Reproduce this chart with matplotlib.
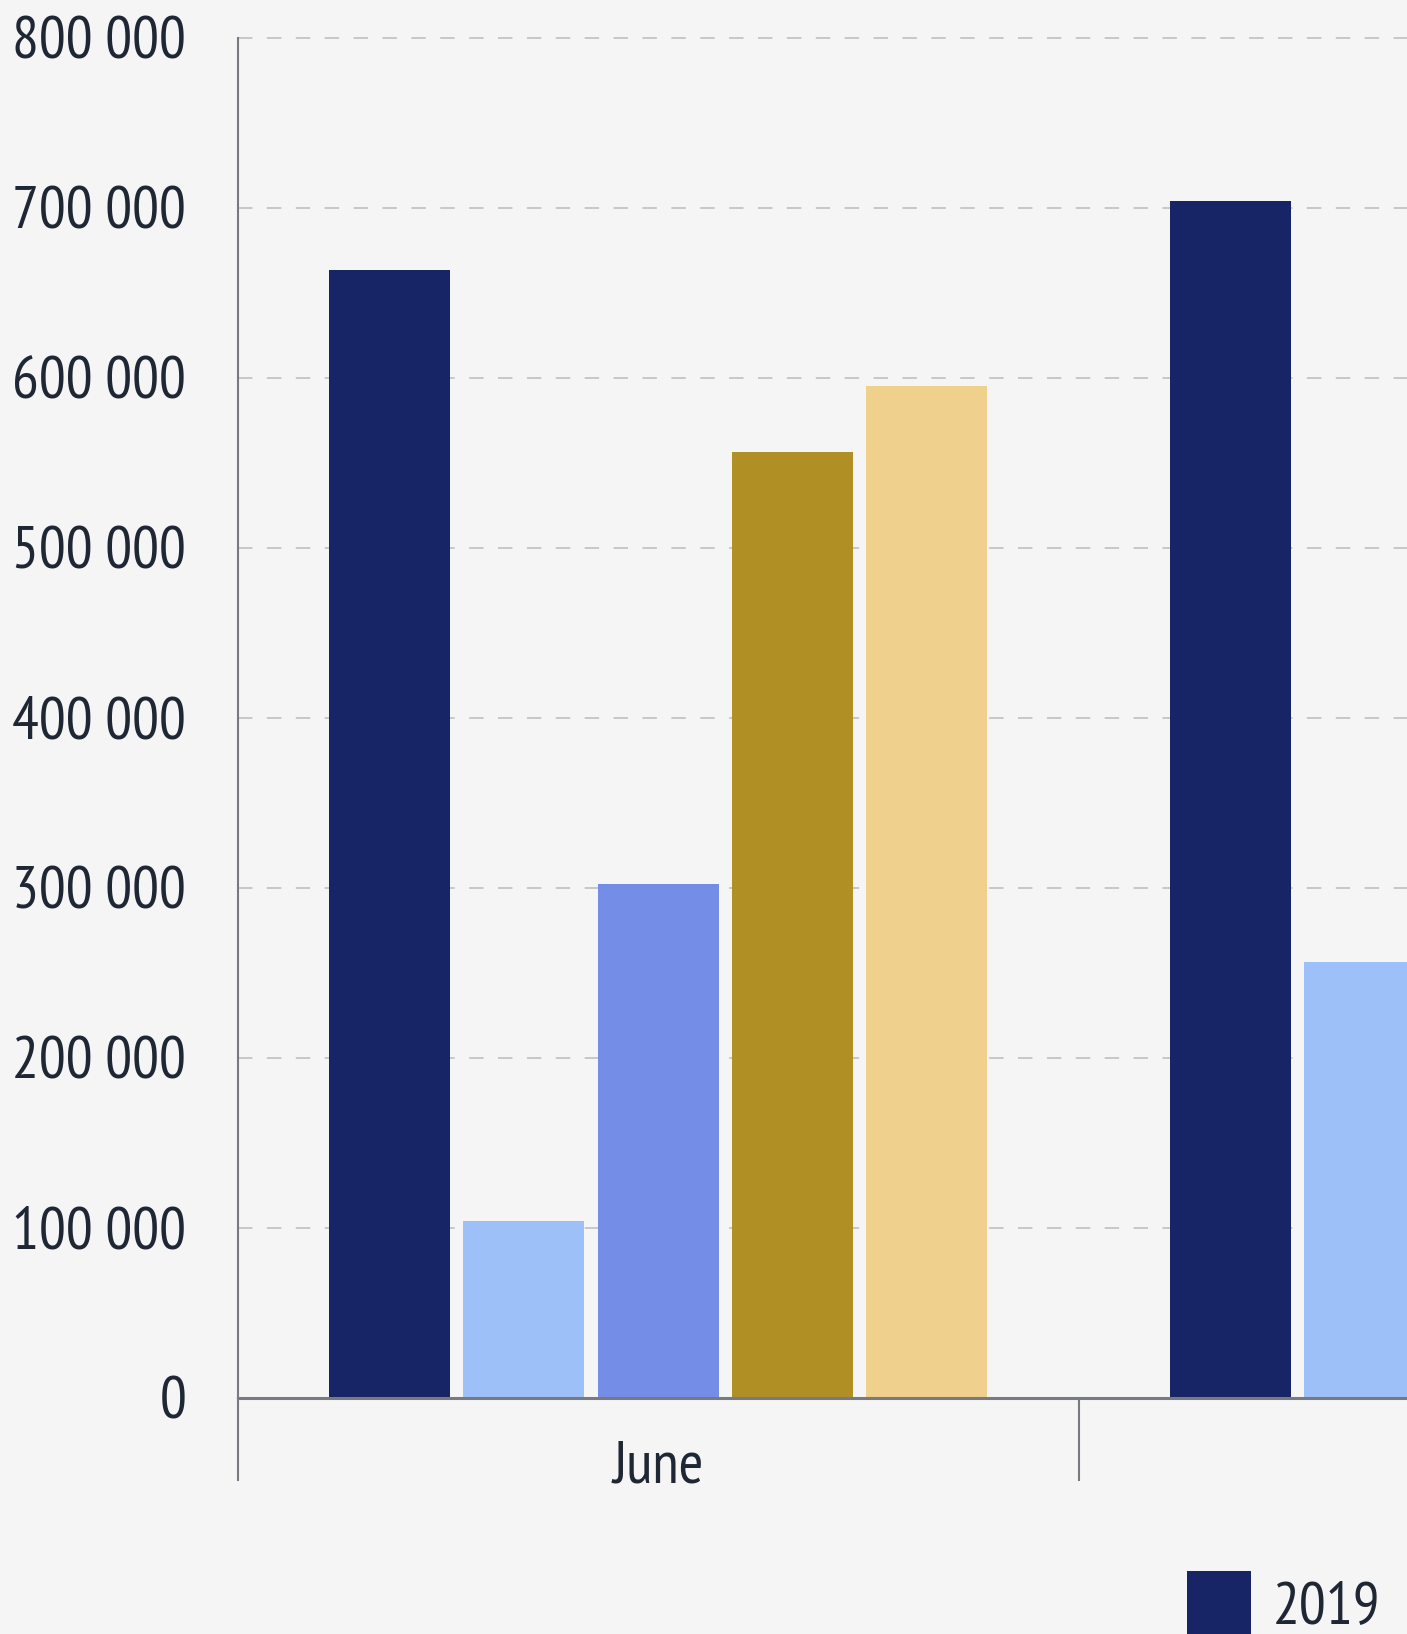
import numpy as np
import matplotlib
matplotlib.use("Agg")
import matplotlib.pyplot as plt
from matplotlib.ticker import FuncFormatter, FixedLocator

plt.rcParams['font.family'] = ['PT Sans Narrow', 'DejaVu Sans']

# Data (only June and the start of July are visible in the crop)
months = ['June', 'July']
years = ['2019', '2020', '2021', '2022', '2023']
colors = ['#172466', '#9DC0F9', '#748DE6', '#B08F24', '#EFD08C']

values = {
    '2019': [663000, 704000],
    '2020': [104000, 256000],
    '2021': [302000, np.nan],
    '2022': [556000, np.nan],
    '2023': [595000, np.nan],
}

W, H = 1407, 1634
fig = plt.figure(figsize=(W / 100, H / 100), dpi=100)
fig.patch.set_facecolor('#F5F5F5')
text_color = '#1F2735'
fs = 43

# axes runs past the right edge of the figure (the picture is a crop)
ymax = 802000
left, bottom = 237.6 / W, (H - 1397.6) / H
h800 = (1397.6 - 37.5) / H
cat_px = 841
ax = fig.add_axes([left, bottom, cat_px * len(months) / W, h800 * ymax / 800000])
ax.set_facecolor('#F5F5F5')

bar_width = 0.1438
step = 0.1598
index = np.arange(len(months))
for i, year in enumerate(years):
    ax.bar(index + (i - 2) * step, values[year], bar_width, color=colors[i],
           label=year, zorder=3)

ax.set_xlim(-0.5, len(months) - 0.5)
ax.set_ylim(0, ymax)
ax.set_yticks(np.arange(0, 800001, 100000))
ax.yaxis.set_major_formatter(FuncFormatter(lambda v, p: f'{int(v):,}'.replace(',', ' ')))
ax.grid(axis='y', color='#C4C4C4', linestyle=(0, (8, 8)), linewidth=1.3, zorder=0)

ax.set_xticks(index)
ax.set_xticklabels(months)
ax.xaxis.set_minor_locator(FixedLocator(np.arange(-0.5, len(months), 1.0)))
ax.tick_params(axis='x', which='major', length=0, pad=31, labelsize=fs, labelcolor=text_color)
ax.tick_params(axis='x', which='minor', length=60, width=1.5, color='#777A80')
ax.tick_params(axis='y', length=0, pad=37, labelsize=fs, labelcolor=text_color)
for lab in ax.get_yticklabels():
    lab.set_verticalalignment('center_baseline')

for side in ['top', 'right']:
    ax.spines[side].set_visible(False)
ax.spines['left'].set_color('#777A80')
ax.spines['left'].set_linewidth(1.5)
ax.spines['left'].set_bounds(0, 800000)
ax.spines['bottom'].set_color('#777A80')
ax.spines['bottom'].set_linewidth(2.2)
ax.spines['bottom'].set_zorder(4)

fig.legend(loc='upper left', bbox_to_anchor=(1187 / W, (H - 1571) / H),
           ncol=5, frameon=False, fontsize=fs, handlelength=1.07, handleheight=1.25,
           handletextpad=0.36, borderpad=0, borderaxespad=0, columnspacing=1.0,
           labelcolor=text_color)

fig.savefig('out.png', dpi=100, facecolor=fig.get_facecolor())
